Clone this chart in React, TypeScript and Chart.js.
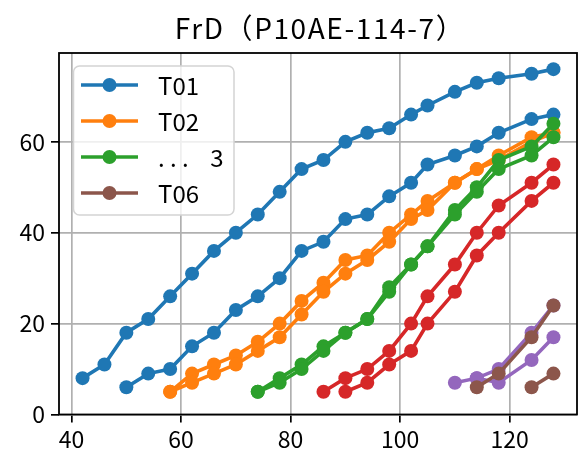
import React, { useEffect, useRef } from "react";
import { Chart, registerables } from "chart.js";

Chart.register(...registerables);

const TITLE = "FrD（P10AE-114-7）";
const FONT = "'Noto Sans CJK JP', 'Noto Sans', sans-serif";

const xTicks = [40, 60, 80, 100, 120];
const yTicks = [0, 20, 40, 60];

const t01aX = [42, 46, 50, 54, 58, 62, 66, 70, 74, 78, 82, 86, 90, 94, 98, 102, 105, 110, 114, 118, 124, 128];
const t01aY = [8, 11, 18, 21, 26, 31, 36, 40, 44, 49, 54, 56, 60, 62, 63, 66, 68, 71, 73, 74, 75, 76];
const t01bX = [50, 54, 58, 62, 66, 70, 74, 78, 82, 86, 90, 94, 98, 102, 105, 110, 114, 118, 124, 128];
const t01bY = [6, 9, 10, 15, 18, 23, 26, 30, 36, 38, 43, 44, 48, 51, 55, 57, 59, 62, 65, 66];

const t02X = [58, 62, 66, 70, 74, 78, 82, 86, 90, 94, 98, 102, 105, 110, 114, 118, 124, 128];
const t02aY = [5, 9, 11, 13, 16, 20, 25, 29, 34, 35, 40, 44, 47, 51, 54, 57, 61, 62];
const t02bY = [5, 7, 9, 11, 14, 17, 22, 27, 31, 34, 38, 43, 45, 51, 54, 56, 60, 62];

const t03X = [74, 78, 82, 86, 90, 94, 98, 102, 105, 110, 114, 118, 124, 128];
const t03aY = [5, 8, 11, 15, 18, 21, 28, 33, 37, 45, 50, 56, 59, 64];
const t03bY = [5, 7, 10, 14, 18, 21, 27, 33, 37, 44, 49, 54, 57, 61];

const redAX = [86, 90, 94, 98, 102, 105, 110, 114, 118, 124, 128];
const redAY = [5, 8, 10, 14, 20, 26, 33, 40, 46, 51, 55];
const redBX = [90, 94, 98, 102, 105, 110, 114, 118, 124, 128];
const redBY = [5, 7, 11, 14, 20, 27, 35, 40, 47, 51];

const purpleAX = [110, 114, 118, 124, 128];
const purpleAY = [7, 8, 10, 18, 24];
const purpleBX = [114, 118, 124, 128];
const purpleBY = [8, 7, 12, 17];

const t06aX = [114, 118, 124, 128];
const t06aY = [6, 9, 17, 24];
const t06bX = [124, 128];
const t06bY = [6, 9];

const BLUE = "#1f77b4";
const ORANGE = "#ff7f0e";
const GREEN = "#2ca02c";
const RED = "#d62728";
const PURPLE = "#9467bd";
const BROWN = "#8c564b";

const legendLabels = ["T01", "T02", ". . .    3", "T06"];
const legendColors = [BLUE, ORANGE, GREEN, BROWN];

const series: { xs: number[]; ys: number[]; color: string }[] = [
  { xs: t01aX, ys: t01aY, color: BLUE },
  { xs: t01bX, ys: t01bY, color: BLUE },
  { xs: t02X, ys: t02aY, color: ORANGE },
  { xs: t02X, ys: t02bY, color: ORANGE },
  { xs: t03X, ys: t03aY, color: GREEN },
  { xs: t03X, ys: t03bY, color: GREEN },
  { xs: redAX, ys: redAY, color: RED },
  { xs: redBX, ys: redBY, color: RED },
  { xs: purpleAX, ys: purpleAY, color: PURPLE },
  { xs: purpleBX, ys: purpleBY, color: PURPLE },
  { xs: t06aX, ys: t06aY, color: BROWN },
  { xs: t06bX, ys: t06bY, color: BROWN },
];

const LW = 3.6;
const MR = 7;

const decor = {
  id: "decor",
  afterDatasetsDraw(chart: any) {
    const { ctx, chartArea: a } = chart;
    ctx.save();
    // frame
    ctx.strokeStyle = "#000";
    ctx.lineWidth = 1.8;
    ctx.strokeRect(a.left, a.top, a.right - a.left, a.bottom - a.top);

    // legend
    const bx = 73.5, by = 66, bw = 160.5, bh = 149, r = 6;
    ctx.beginPath();
    ctx.roundRect(bx, by, bw, bh, r);
    ctx.fillStyle = "rgba(255,255,255,0.8)";
    ctx.fill();
    ctx.strokeStyle = "#d4d4d4";
    ctx.lineWidth = 1.5;
    ctx.stroke();
    ctx.font = `24px ${FONT}`;
    ctx.textBaseline = "middle";
    ctx.textAlign = "left";
    legendLabels.forEach((lab, i) => {
      const y = 85 + i * 36;
      const c = legendColors[i];
      ctx.strokeStyle = c;
      ctx.lineWidth = LW;
      ctx.beginPath();
      ctx.moveTo(81, y);
      ctx.lineTo(138, y);
      ctx.stroke();
      ctx.fillStyle = c;
      ctx.beginPath();
      ctx.arc(109.5, y, MR, 0, Math.PI * 2);
      ctx.fill();
      ctx.fillStyle = "#000";
      ctx.fillText(lab, 158, y + 1);
    });

    // title
    ctx.font = `28px ${FONT}`;
    (ctx as any).letterSpacing = "1.6px";
    ctx.textAlign = "center";
    ctx.textBaseline = "alphabetic";
    ctx.fillStyle = "#000";
    ctx.fillText(TITLE, (a.left + a.right) / 2 + 2, 39);
    ctx.restore();
  },
};

export default function App() {
  const ref = useRef<HTMLCanvasElement | null>(null);
  useEffect(() => {
    if (!ref.current) return;
    const n = series.length;
    const chart = new Chart(ref.current, {
      type: "line",
      data: {
        datasets: series.map((s, i) => ({
          data: s.xs.map((x, j) => ({ x, y: s.ys[j] })),
          borderColor: s.color,
          backgroundColor: s.color,
          pointBackgroundColor: s.color,
          pointBorderColor: s.color,
          pointBorderWidth: 0,
          pointRadius: MR,
          borderWidth: LW,
          tension: 0,
          order: n - i,
        })),
      },
      options: {
        animation: false,
        responsive: false,
        devicePixelRatio: 1,
        layout: { padding: { top: 53, right: 2, left: 0, bottom: 0 } },
        plugins: {
          legend: { display: false },
          title: { display: false },
          tooltip: { enabled: false },
        },
        scales: {
          x: {
            type: "linear",
            min: 37.7,
            max: 132.3,
            afterBuildTicks: (s: any) => {
              s.ticks = xTicks.map((v) => ({ value: v }));
            },
            afterFit: (s: any) => {
              s.height = 42.5;
            },
            grid: {
              color: "#b0b0b0",
              lineWidth: 1.7,
              drawTicks: true,
              tickLength: 8,
              tickColor: "#000",
              tickWidth: 1.7,
            },
            border: { display: false },
            ticks: {
              font: { family: FONT, size: 23 },
              color: "#000",
              padding: 3,
              maxRotation: 0,
            },
          },
          y: {
            type: "linear",
            min: 0,
            max: 79.55,
            afterBuildTicks: (s: any) => {
              s.ticks = yTicks.map((v) => ({ value: v }));
            },
            afterFit: (s: any) => {
              s.width = 59;
            },
            grid: {
              color: "#b0b0b0",
              lineWidth: 1.7,
              drawTicks: true,
              tickLength: 8,
              tickColor: "#000",
              tickWidth: 1.7,
            },
            border: { display: false },
            ticks: {
              font: { family: FONT, size: 23 },
              color: "#000",
              padding: 6,
            },
          },
        },
      },
      plugins: [decor],
    });
    return () => chart.destroy();
  }, []);
  return (
    <div style={{ position: "fixed", left: 0, top: 0, width: 584, height: 457, background: "#fff" }}>
      <canvas ref={ref} width={584} height={457} style={{ width: 584, height: 457, display: "block" }} />
    </div>
  );
}
